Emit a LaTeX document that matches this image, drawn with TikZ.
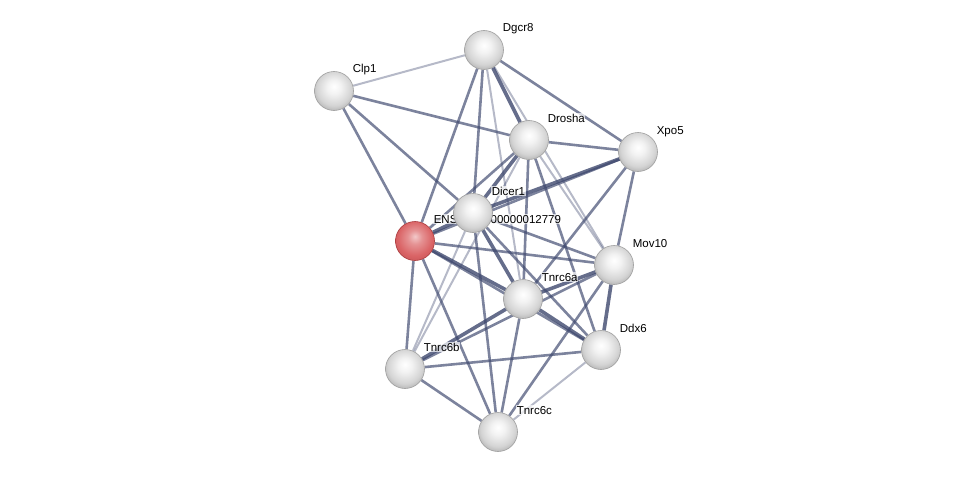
\documentclass[tikz,border=0pt]{standalone}
\usepackage{fontspec}
\setmainfont{Liberation Sans}
\definecolor{linkBlue}{RGB}{62,72,110}
\definecolor{rimGray}{RGB}{150,150,150}
\definecolor{bodyGray}{RGB}{212,212,212}
\definecolor{rimRed}{RGB}{168,58,60}
\definecolor{bodyRed}{RGB}{218,100,102}
\usetikzlibrary{calc}
\pgfdeclareradialshading{grayball}{\pgfpoint{0bp}{6bp}}{%
  color(0bp)=(white); color(9bp)=(white!95!black);
  color(22bp)=(bodyGray); color(28bp)=(white!72!black);
  color(32bp)=(rimGray); color(50bp)=(rimGray)}
\pgfdeclareradialshading{redball}{\pgfpoint{0bp}{6bp}}{%
  color(0bp)=(white!65!bodyRed); color(9bp)=(white!30!bodyRed);
  color(22bp)=(bodyRed); color(28bp)=(bodyRed!75!rimRed);
  color(32bp)=(rimRed); color(50bp)=(rimRed)}
\pgfdeclarelayer{edgelayer}
\pgfdeclarelayer{labellayer}
\pgfsetlayers{edgelayer,labellayer,main}
\tikzset{
  protein/.style={circle,minimum size=39pt,inner sep=0pt,
    draw=gray!75,line width=0.6pt,shading=#1},
  protein/.default=grayball,
  plabel/.style={anchor=base west,font=\fontsize{11.5}{12}\selectfont,
    inner sep=0.6pt,fill=white,fill opacity=0.7,text opacity=1},
  link/.style={draw=linkBlue,line width=2.6pt,draw opacity=0.68},
  linkstrong/.style={draw=linkBlue,line width=3.6pt,draw opacity=0.8},
  linkweak/.style={draw=linkBlue,line width=2pt,draw opacity=0.38}
}

\begin{document}
\begin{tikzpicture}[x=1pt,y=-1pt]
  \useasboundingbox (0,0) rectangle (976,476);
  % proteins
  \node[protein] (dgcr8)  at (484,50)  {};
  \node[protein] (clp1)   at (334,91)  {};
  \node[protein] (drosha) at (529,140) {};
  \node[protein] (xpo5)   at (638,152) {};
  \node[protein] (dicer1) at (473,213) {};
  \node[protein=redball,draw=rimRed] (query) at (415,241) {};
  \node[protein] (mov10)  at (614,265) {};
  \node[protein] (tnrc6a) at (523,299) {};
  \node[protein] (ddx6)   at (601,350) {};
  \node[protein] (tnrc6b) at (405,369) {};
  \node[protein] (tnrc6c) at (498,432) {};

  \begin{pgfonlayer}{labellayer}
    \foreach \p/\t in {dgcr8/Dgcr8,clp1/Clp1,drosha/Drosha,xpo5/Xpo5,
        dicer1/Dicer1,query/ENSMUSP00000012779,mov10/Mov10,tnrc6a/Tnrc6a,
        ddx6/Ddx6,tnrc6b/Tnrc6b,tnrc6c/Tnrc6c}
      \node[plabel] (\p-lbl) at ($(\p)+(18,-18)$) {\t};
  \end{pgfonlayer}

  \begin{pgfonlayer}{edgelayer}
    % weak evidence
    \foreach \a/\b in {dgcr8/clp1,dgcr8/tnrc6a,dgcr8/mov10,drosha/tnrc6b,
        drosha/mov10,ddx6/tnrc6c,dicer1/tnrc6b}
      \draw[linkweak] (\a) -- (\b);
    % medium evidence
    \foreach \a/\b in {dgcr8/xpo5,dgcr8/query,dgcr8/dicer1,clp1/drosha,
        clp1/query,clp1/dicer1,drosha/xpo5,drosha/query,drosha/tnrc6a,
        drosha/ddx6,xpo5/query,xpo5/mov10,xpo5/tnrc6a,dicer1/mov10,
        dicer1/ddx6,dicer1/tnrc6c,query/mov10,query/ddx6,query/tnrc6b,
        query/tnrc6c,mov10/tnrc6b,mov10/tnrc6c,tnrc6a/tnrc6c,ddx6/tnrc6b,
        tnrc6b/tnrc6c}
      \draw[link] (\a) -- (\b);
    % strong evidence
    \foreach \a/\b in {dgcr8/drosha,drosha/dicer1,xpo5/dicer1,dicer1/query,
        query/tnrc6a,dicer1/tnrc6a,mov10/tnrc6a,mov10/ddx6,tnrc6a/ddx6,
        tnrc6a/tnrc6b}
      \draw[linkstrong] (\a) -- (\b);
  \end{pgfonlayer}
\end{tikzpicture}
\end{document}
